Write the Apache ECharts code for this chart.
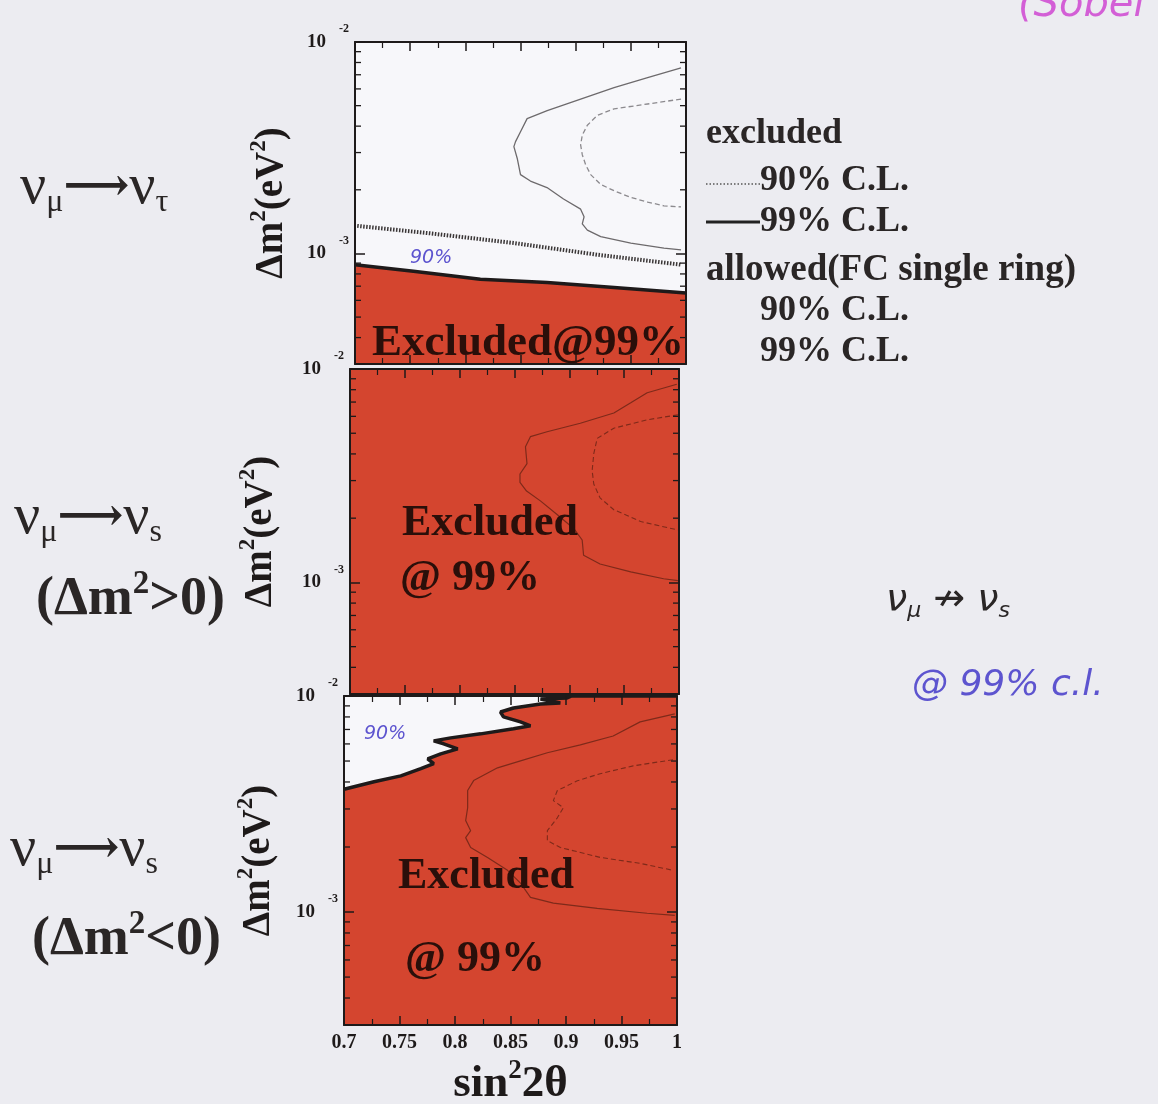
<!DOCTYPE html>
<html>
<head>
<meta charset="utf-8">
<script src="https://cdn.jsdelivr.net/npm/echarts@6/dist/echarts.min.js"></script>
<style>
  html, body { margin: 0; padding: 0; background: #ececf1; }
  #chart { width: 1158px; height: 1104px; }
</style>
</head>
<body>
<div id="chart"></div>
<script>
// ---- data: sin^2(2θ) vs Δm^2 [eV^2] ----
// νμ→ντ : excluded limits
const tauExcl90 = [[0.702, 1.35e-3], [0.768, 1.245e-3], [0.844, 1.12e-3], [0.9197, 9.86e-4], [0.9955, 8.85e-4]];
const tauExcl99 = [[0.7, 8.85e-4], [0.753, 8.24e-4], [0.8136, 7.55e-4], [0.8742, 7.28e-4], [0.9348, 6.9e-4], [1.0, 6.5e-4]];
// νμ→ντ : allowed (FC single ring)
const tauAllowed99 = [[0.9955, 7.55e-3], [0.9652, 6.78e-3], [0.9348, 6.09e-3], [0.9045, 5.37e-3], [0.8742, 4.74e-3], [0.856, 4.34e-3],
  [0.850, 3.76e-3], [0.8455, 3.38e-3], [0.844, 3.2e-3], [0.847, 2.82e-3], [0.8485, 2.58e-3], [0.850, 2.36e-3], [0.859, 2.2e-3],
  [0.874, 2.05e-3], [0.889, 1.81e-3], [0.9045, 1.62e-3], [0.9076, 1.49e-3], [0.906, 1.38e-3], [0.9106, 1.29e-3], [0.9227, 1.2e-3],
  [0.95, 1.12e-3], [0.98, 1.06e-3], [0.9955, 1.04e-3]];
const tauAllowed90 = [[0.9955, 5.37e-3], [0.9652, 5.09e-3], [0.9348, 4.83e-3], [0.9197, 4.5e-3], [0.9106, 4.04e-3], [0.906, 3.63e-3],
  [0.9045, 3.26e-3], [0.906, 2.93e-3], [0.909, 2.63e-3], [0.9136, 2.36e-3], [0.9227, 2.12e-3], [0.9348, 1.98e-3], [0.95, 1.84e-3],
  [0.9652, 1.75e-3], [0.98, 1.68e-3], [0.9955, 1.66e-3]];

// νμ→νs (Δm^2>0): excluded over the whole range shown
const sPosExcl99 = [[0.7, 1e-2], [1.0, 1e-2]];
const sPosAllowed99 = [[0.998, 8.48e-3], [0.971, 7.74e-3], [0.956, 6.94e-3], [0.9406, 6.22e-3], [0.910, 5.57e-3], [0.8797, 5.08e-3],
  [0.8645, 4.82e-3], [0.860, 4.32e-3], [0.8614, 3.6e-3], [0.855, 3.22e-3], [0.855, 2.94e-3], [0.861, 2.68e-3], [0.8736, 2.41e-3],
  [0.8888, 2.08e-3], [0.904, 1.79e-3], [0.9117, 1.58e-3], [0.913, 1.34e-3], [0.928, 1.22e-3], [0.956, 1.12e-3], [0.986, 1.04e-3],
  [0.999, 1.02e-3]];
const sPosAllowed90 = [[0.999, 6.1e-3], [0.971, 5.78e-3], [0.9406, 5.28e-3], [0.9254, 4.73e-3], [0.9223, 4.01e-3], [0.9208, 3.34e-3],
  [0.9223, 2.89e-3], [0.928, 2.49e-3], [0.9406, 2.19e-3], [0.965, 1.93e-3], [0.999, 1.76e-3]];

// νμ→νs (Δm^2<0)
const sNegExcl99 = [[0.7, 3.7e-3], [0.727, 4.01e-3], [0.7512, 4.27e-3], [0.7692, 4.61e-3], [0.7808, 4.86e-3], [0.7754, 5.12e-3],
  [0.7871, 5.4e-3], [0.8024, 5.69e-3], [0.7898, 6.01e-3], [0.7808, 6.2e-3], [0.7961, 6.4e-3], [0.8231, 6.68e-3], [0.8527, 7.05e-3],
  [0.868, 7.28e-3], [0.859, 7.59e-3], [0.8437, 8.0e-3], [0.841, 8.43e-3], [0.8527, 8.8e-3], [0.877, 9.18e-3], [0.8949, 9.28e-3],
  [0.886, 9.48e-3], [0.877, 9.69e-3], [0.901, 9.79e-3], [0.905, 1e-2], [1.0, 1e-2]];
const sNegAllowed99 = [[0.998, 8.26e-3], [0.9668, 7.59e-3], [0.9425, 6.53e-3], [0.9129, 5.94e-3], [0.8832, 5.46e-3], [0.859, 5.01e-3],
  [0.8383, 4.65e-3], [0.8168, 4.06e-3], [0.8114, 3.65e-3], [0.8114, 3.04e-3], [0.8096, 2.65e-3], [0.8141, 2.38e-3], [0.8096, 2.21e-3],
  [0.8141, 1.99e-3], [0.8293, 1.79e-3], [0.8473, 1.56e-3], [0.859, 1.36e-3], [0.868, 1.17e-3], [0.8886, 1.1e-3], [0.9281, 1.04e-3],
  [0.9731, 9.87e-4], [0.998, 9.66e-4]];
const sNegAllowed90 = [[0.9964, 5.07e-3], [0.9605, 4.75e-3], [0.9308, 4.37e-3], [0.9102, 4.05e-3], [0.8922, 3.65e-3], [0.8886, 3.28e-3],
  [0.8976, 3.04e-3], [0.8922, 2.73e-3], [0.8832, 2.38e-3], [0.8832, 2.14e-3], [0.8949, 1.99e-3], [0.9308, 1.79e-3], [0.9668, 1.68e-3],
  [0.9964, 1.56e-3]];

// axis ranges and log minor tick values
const xRange = [0.7, 1.0];
const yRange = [3e-4, 1e-2];
const logMinor = [4e-4, 5e-4, 6e-4, 7e-4, 8e-4, 9e-4, 2e-3, 3e-3, 4e-3, 5e-3, 6e-3, 7e-3, 8e-3, 9e-3];

// ---- styling ----
const SERIF = '"Liberation Serif", "DejaVu Serif", serif';
const HAND = '"DejaVu Sans", sans-serif';
const INK = '#1e1a1a';
const RED = '#d4452f';
const CONTOUR_RED = '#7e2a1a';
const HAND_BLUE = '#5d54cf';

const grids = [
  { left: 355, right: 472, top: 42, height: 322, nameGap: 60 },
  { left: 350, right: 479, top: 369, height: 325, nameGap: 66 },
  { left: 344, right: 481, top: 696, height: 329, nameGap: 62 }
];

const supRich = {
  b: { fontFamily: SERIF, fontWeight: 'bold', fontSize: 19, color: INK },
  s: { fontFamily: SERIF, fontWeight: 'bold', fontSize: 12, color: INK, padding: [0, 0, 26, 13] }
};

function yLabel(v) {
  const e = Math.log10(v);
  const r = Math.round(e);
  if (Math.abs(e - r) > 1e-6) return '';
  return '{b|10}{s|' + r + '}';
}

const xAxes = [], yAxes = [];
grids.forEach((g, i) => {
  const isLast = i === grids.length - 1;
  [['bottom', isLast], ['top', false]].forEach(([pos, lab]) => {
    xAxes.push({
      type: 'value', gridIndex: i, position: pos, min: xRange[0], max: xRange[1], interval: 0.05, z: 10,
      axisLine: { show: true, onZero: false, lineStyle: { color: INK, width: 2 } },
      axisTick: { show: true, inside: true, length: 9, lineStyle: { color: INK, width: 1.5 } },
      minorTick: { show: true, splitNumber: 2, length: 6, lineStyle: { color: INK, width: 1.2 } },
      splitLine: { show: false },
      axisLabel: {
        show: lab, margin: 8, color: INK, fontFamily: SERIF, fontWeight: 'bold', fontSize: 20,
        formatter: v => String(+v.toFixed(2))
      },
      name: lab ? '{t|sin}{s|2}{t|2θ}' : '',
      nameLocation: 'middle', nameGap: 33,
      nameTextStyle: {
        rich: {
          t: { fontFamily: SERIF, fontWeight: 'bold', fontSize: 45, color: INK },
          s: { fontFamily: SERIF, fontWeight: 'bold', fontSize: 27, color: INK, padding: [0, 0, 26, 0] }
        }
      }
    });
  });
  [['left', true], ['right', false]].forEach(([pos, lab]) => {
    yAxes.push({
      type: 'log', logBase: 10, gridIndex: i, position: pos, min: yRange[0], max: yRange[1], z: 10,
      axisLine: { show: true, lineStyle: { color: INK, width: 2 } },
      axisTick: { show: true, inside: true, length: 10, lineStyle: { color: INK, width: 1.5 } },
      splitLine: { show: false },
      axisLabel: { show: lab, margin: 6, formatter: yLabel, rich: supRich },
      name: lab ? '{t|Δm}{s|2}{t|(eV}{s|2}{t|)}' : '',
      nameLocation: 'middle', nameRotate: 90, nameGap: g.nameGap,
      nameTextStyle: {
        rich: {
          t: { fontFamily: SERIF, fontWeight: 'bold', fontSize: 39, color: INK },
          s: { fontFamily: SERIF, fontWeight: 'bold', fontSize: 23, color: INK, padding: [0, 0, 24, 0] }
        }
      }
    });
  });
});

// axis indices: grid i -> bottom x = 2i, left y = 2i
function areaSeries(i, data) {
  return {
    type: 'line', xAxisIndex: 2 * i, yAxisIndex: 2 * i, data: data, showSymbol: false, z: 1,
    lineStyle: { color: INK, width: 3.5 },
    areaStyle: { color: RED, opacity: 1, origin: 'start' },
    silent: true
  };
}
function contour(i, data, color, width, type) {
  return {
    type: 'line', xAxisIndex: 2 * i, yAxisIndex: 2 * i, data: data, showSymbol: false, z: 3,
    lineStyle: { color: color, width: width, type: type }, silent: true
  };
}
function minorTicks(i) {
  return {
    type: 'custom', xAxisIndex: 2 * i, yAxisIndex: 2 * i, z: 6, silent: true,
    data: logMinor.map(v => [xRange[0], v]),
    renderItem: (params, api) => {
      const v = api.value(1);
      const pL = api.coord([xRange[0], v]);
      const pR = api.coord([xRange[1], v]);
      const st = { stroke: INK, lineWidth: 1.3 };
      return {
        type: 'group', children: [
          { type: 'line', shape: { x1: pL[0], y1: pL[1], x2: pL[0] + 6, y2: pL[1] }, style: st },
          { type: 'line', shape: { x1: pR[0], y1: pR[1], x2: pR[0] - 6, y2: pR[1] }, style: st }
        ]
      };
    }
  };
}

const series = [
  // νμ→ντ
  areaSeries(0, tauExcl99),
  contour(0, tauExcl90, '#3a3636', 4, [1.5, 1.5]),
  contour(0, tauAllowed99, '#6d6a6c', 1.3, 'solid'),
  contour(0, tauAllowed90, '#8c8a8e', 1.3, [5, 3]),
  minorTicks(0),
  // νμ→νs, Δm^2>0
  Object.assign(areaSeries(1, sPosExcl99), { lineStyle: { width: 0 } }),
  contour(1, sPosAllowed99, CONTOUR_RED, 1.2, 'solid'),
  contour(1, sPosAllowed90, CONTOUR_RED, 1.1, [5, 3]),
  minorTicks(1),
  // νμ→νs, Δm^2<0
  areaSeries(2, sNegExcl99),
  contour(2, sNegAllowed99, CONTOUR_RED, 1.2, 'solid'),
  contour(2, sNegAllowed90, CONTOUR_RED, 1.1, [5, 3]),
  minorTicks(2)
];

// ---- text annotations ----
function txt(x, y, text, extra) {
  return {
    type: 'text', x: x, y: y, z: 20,
    style: Object.assign({
      text: text, fontFamily: SERIF, fontWeight: 'bold', fontSize: 36, fill: '#2a2626',
      verticalAlign: 'middle', align: 'left'
    }, extra || {})
  };
}
const greekRich = {
  n: { fontFamily: SERIF, fontSize: 58, color: '#2a2626' },
  a: { fontFamily: SERIF, fontWeight: 'bold', fontSize: 46, color: '#2a2626' },
  d: { fontFamily: SERIF, fontSize: 32, color: '#2a2626', padding: [30, 0, 0, 0] }
};
const boldRich = {
  t: { fontFamily: SERIF, fontWeight: 'bold', fontSize: 54, color: '#2a2626' },
  s: { fontFamily: SERIF, fontWeight: 'bold', fontSize: 33, color: '#2a2626', padding: [0, 0, 32, 0] }
};
const inPanel = { fill: '#2a0f0a', fontSize: 44 };
const pen = { fontFamily: HAND, fontWeight: 'normal', fontStyle: 'italic', fill: HAND_BLUE };

const graphics = [
  // process labels on the left
  txt(20, 188, '{n|ν}{d|μ}{a|⟶}{n|ν}{d|τ}', { rich: greekRich }),
  txt(14, 518, '{n|ν}{d|μ}{a|⟶}{n|ν}{d|s}', { rich: greekRich }),
  txt(36, 600, '{t|(Δm}{s|2}{t|>0)}', { rich: boldRich }),
  txt(10, 850, '{n|ν}{d|μ}{a|⟶}{n|ν}{d|s}', { rich: greekRich }),
  txt(32, 940, '{t|(Δm}{s|2}{t|<0)}', { rich: boldRich }),
  // legend
  txt(706, 134, 'excluded'),
  { type: 'line', z: 20, shape: { x1: 706, y1: 184, x2: 760, y2: 184 }, style: { stroke: '#555', lineWidth: 1.5, lineDash: [1.5, 2] } },
  txt(760, 181, '90% C.L.'),
  { type: 'line', z: 20, shape: { x1: 706, y1: 222, x2: 760, y2: 222 }, style: { stroke: '#222', lineWidth: 3 } },
  txt(760, 222, '99% C.L.'),
  txt(706, 270, 'allowed(FC single ring)', { fontSize: 37 }),
  txt(760, 311, '90% C.L.'),
  txt(760, 352, '99% C.L.'),
  // labels inside panels
  txt(372, 343, 'Excluded@99%', Object.assign({}, inPanel, { fontSize: 45 })),
  txt(402, 524, 'Excluded', inPanel),
  txt(400, 579, '@ 99%', inPanel),
  txt(398, 877, 'Excluded', inPanel),
  txt(405, 960, '@ 99%', inPanel),
  // pen notes
  txt(410, 258, '90%', Object.assign({ fontSize: 19 }, pen)),
  txt(364, 734, '90%', Object.assign({ fontSize: 19 }, pen)),
  txt(886, 600, '{v|ν}{u|μ}{v| ↛ ν}{u|s}', {
    rich: {
      v: { fontFamily: HAND, fontStyle: 'italic', fontSize: 38, color: HAND_BLUE },
      u: { fontFamily: HAND, fontStyle: 'italic', fontSize: 22, color: HAND_BLUE, padding: [22, 0, 0, 0] }
    }
  }),
  txt(912, 686, '@ 99% c.l.', Object.assign({ fontSize: 36 }, pen)),
  txt(1018, 6, '(Sobel', Object.assign({ fontSize: 40 }, pen, { fill: '#d35fd6' }))
];

const chart = echarts.init(document.getElementById('chart'), null, { renderer: 'canvas' });
chart.setOption({
  backgroundColor: '#ececf1',
  animation: false,
  grid: grids.map(g => ({
    show: true, backgroundColor: '#f7f7fa', borderWidth: 0, containLabel: false, outerBoundsMode: 'none',
    left: g.left, right: g.right, top: g.top, height: g.height
  })),
  xAxis: xAxes,
  yAxis: yAxes,
  series: series,
  graphic: graphics
});
</script>
</body>
</html>
